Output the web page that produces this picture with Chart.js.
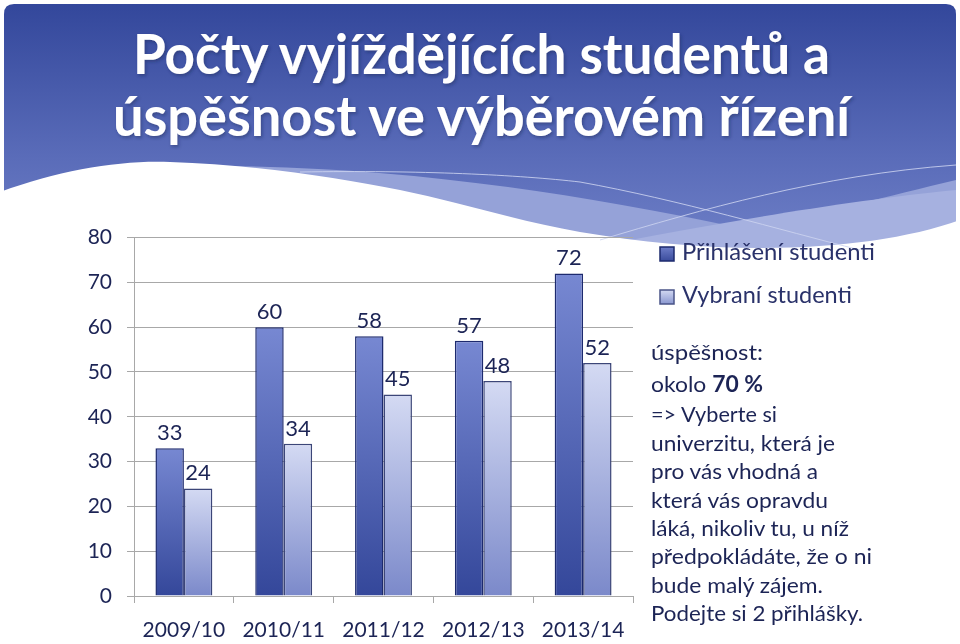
<!DOCTYPE html>
<html lang="cs">
<head>
<meta charset="utf-8">
<title>Počty vyjíždějících studentů</title>
<script src="https://cdn.jsdelivr.net/npm/chart.js@4/dist/chart.umd.min.js"></script>
<style>
  html, body { margin: 0; padding: 0; background: #fff; }
  #slide { position: relative; width: 960px; height: 644px; overflow: hidden; }
  #bg, #overlay { position: absolute; left: 0; top: 0; }
  #chartBox { position: absolute; left: 0; top: 210px; width: 650px; height: 434px; }
</style>
</head>
<body>
<div id="slide">
  <svg id="bg" width="960" height="644">
    <defs>
      <linearGradient id="headGrad" x1="0" y1="0" x2="0" y2="1">
        <stop offset="0" stop-color="#33479b"/>
        <stop offset="0.6" stop-color="#5a6cb9"/>
        <stop offset="1" stop-color="#7081c8"/>
      </linearGradient>
    </defs>
    <path d="M4,14 Q4,4 14,4 L946,4 Q956,4 956,14 L956,260 L4,260 Z" fill="url(#headGrad)"/>
    <!-- lighter band -->
    <path d="M230,166 C400,168 560,190 740,228 C800,220 880,198 956,180 L956,260 L230,260 Z" fill="#95a2d8"/>
    <path d="M600,246 C700,226 850,200 956,190 L956,260 L600,260 Z" fill="#a6b1e0"/>
    <!-- white hill -->
    <path d="M0,192 C60,170 120,160 170,162 C260,165 340,178 400,190 C460,202 520,222 580,232 C640,242 700,248 760,248 C840,248 910,238 960,220 L960,644 L0,644 Z" fill="#ffffff"/>
    <!-- thin light strokes -->
    <path d="M300,172 C420,170 520,175 580,182 C680,200 780,230 860,250" fill="none" stroke="#ccd3f0" stroke-width="1" opacity="0.85"/>
    <path d="M600,240 C700,210 820,175 956,165" fill="none" stroke="#ccd3f0" stroke-width="1" opacity="0.85"/>
  </svg>

  <div id="chartBox"><canvas id="barChart"></canvas></div>

  <svg id="overlay" width="960" height="644">
    <defs>
      <filter id="shadow" x="-5%" y="-20%" width="110%" height="140%">
        <feDropShadow dx="1.5" dy="2" stdDeviation="1.5" flood-color="#1a2550" flood-opacity="0.4"/>
      </filter>
      <linearGradient id="darkKey" x1="0" y1="0" x2="0" y2="1">
        <stop offset="0" stop-color="#6d7dc8"/>
        <stop offset="1" stop-color="#3a4c9c"/>
      </linearGradient>
      <linearGradient id="lightKey" x1="0" y1="0" x2="0" y2="1">
        <stop offset="0" stop-color="#d3d9f2"/>
        <stop offset="1" stop-color="#8a97d0"/>
      </linearGradient>
    </defs>
    <g font-family="Lato, 'Open Sans', sans-serif" font-weight="bold" font-size="56" fill="#ffffff" filter="url(#shadow)">
      <text id="title1" x="133" y="74" textLength="697" lengthAdjust="spacingAndGlyphs"></text>
      <text id="title2" x="113" y="136" textLength="737" lengthAdjust="spacingAndGlyphs"></text>
    </g>
    <g id="legend" font-family="Lato, 'Open Sans', sans-serif" font-size="23" fill="#2a326a"></g>
    <g id="note" font-family="Lato, 'Open Sans', sans-serif" font-size="22" fill="#1c2455"></g>
  </svg>
</div>

<script>
const seasons = ['2009/10', '2010/11', '2011/12', '2012/13', '2013/14']
const appliedStudents = [33, 60, 58, 57, 72]
const selectedStudents = [24, 34, 45, 48, 52]
const seriesNames = ['Přihlášení studenti', 'Vybraní studenti']
const titleLines = ['Počty vyjíždějících studentů a', 'úspěšnost ve výběrovém řízení']
const noteLines = [
  'úspěšnost:',
  'okolo |70 %',
  '=> Vyberte si',
  'univerzitu, která je',
  'pro vás vhodná a',
  'která vás opravdu',
  'láká, nikoliv tu, u níž',
  'předpokládáte, že o ni',
  'bude malý zájem.',
  'Podejte si 2 přihlášky.'
]

const SVG_NS = 'http://www.w3.org/2000/svg'
const textColor = '#1c2455'
const gridColor = '#a8a8a8'

// vertical gradient per bar, light at the top and dark at the base
const barGradient = (topColor, bottomColor) => {
  return (ctx) => {
    const chart = ctx.chart
    const area = chart.chartArea
    if (!area || ctx.type !== 'data') {
      return bottomColor
    }
    const yTop = chart.scales.y.getPixelForValue(ctx.raw)
    const g = chart.ctx.createLinearGradient(0, yTop, 0, area.bottom)
    g.addColorStop(0, topColor)
    g.addColorStop(1, bottomColor)
    return g
  }
}

// values above the bars
const valueLabels = {
  id: 'valueLabels',
  afterDatasetsDraw(chart) {
    const ctx = chart.ctx
    ctx.save()
    ctx.font = '22px Lato, "Open Sans", sans-serif'
    ctx.fillStyle = textColor
    ctx.textAlign = 'center'
    ctx.textBaseline = 'alphabetic'
    chart.data.datasets.forEach((ds, i) => {
      const meta = chart.getDatasetMeta(i)
      meta.data.forEach((bar, j) => {
        ctx.fillText(ds.data[j], bar.x, bar.y - 8)
      })
    })
    ctx.restore()
  }
}

const drawChart = () => {
  const ctx = document.querySelector('#barChart')
  new Chart(ctx, {
    type: 'bar',
    data: {
      labels: seasons,
      datasets: [{
        label: seriesNames[0],
        data: appliedStudents,
        backgroundColor: barGradient('#7788d2', '#34479a'),
        borderColor: '#1d2a6e',
        borderWidth: 1.5,
        borderSkipped: 'bottom'
      }, {
        label: seriesNames[1],
        data: selectedStudents,
        backgroundColor: barGradient('#d4daf3', '#7b89ca'),
        borderColor: '#3c4678',
        borderWidth: 1.5,
        borderSkipped: 'bottom'
      }]
    },
    options: {
      responsive: true,
      maintainAspectRatio: false,
      animation: false,
      layout: { padding: { top: 25, right: 17, left: 0, bottom: 0 } },
      datasets: {
        bar: { barPercentage: 1, categoryPercentage: 0.57 }
      },
      plugins: {
        legend: { display: false },
        tooltip: { enabled: false }
      },
      scales: {
        x: {
          afterFit: (scale) => { scale.height = 48 },
          grid: { offset: true, drawOnChartArea: false, tickLength: 7, color: gridColor },
          border: { color: gridColor, width: 1 },
          ticks: {
            color: textColor,
            padding: 15,
            font: { family: 'Lato, "Open Sans", sans-serif', size: 21 }
          }
        },
        y: {
          min: 0,
          max: 80,
          afterFit: (scale) => { scale.width = 134 },
          grid: { color: gridColor, tickLength: 7, lineWidth: 1 },
          border: { color: gridColor, width: 1 },
          ticks: {
            stepSize: 10,
            color: textColor,
            padding: 15,
            font: { family: 'Lato, "Open Sans", sans-serif', size: 21 }
          }
        }
      }
    },
    plugins: [valueLabels]
  })
}

const drawTexts = () => {
  document.querySelector('#title1').textContent = titleLines[0]
  document.querySelector('#title2').textContent = titleLines[1]

  // legend: colour keys and series names
  const legend = document.querySelector('#legend')
  const keyFills = ['url(#darkKey)', 'url(#lightKey)']
  const keyStrokes = ['#1d2a6e', '#4a5488']
  const keyTops = [247, 290]
  const legendBaselines = [260, 303]
  const legendWidths = [193, 170]
  seriesNames.forEach((name, i) => {
    const rect = document.createElementNS(SVG_NS, 'rect')
    rect.setAttribute('x', 660)
    rect.setAttribute('y', keyTops[i])
    rect.setAttribute('width', 14)
    rect.setAttribute('height', 14)
    rect.setAttribute('fill', keyFills[i])
    rect.setAttribute('stroke', keyStrokes[i])
    rect.setAttribute('stroke-width', 1.5)
    legend.appendChild(rect)
    const t = document.createElementNS(SVG_NS, 'text')
    t.setAttribute('x', 682)
    t.setAttribute('y', legendBaselines[i])
    t.setAttribute('textLength', legendWidths[i])
    t.setAttribute('lengthAdjust', 'spacingAndGlyphs')
    t.textContent = name
    legend.appendChild(t)
  })

  // note on the right side
  const note = document.querySelector('#note')
  const baselines = [360, 392, 422, 451, 479, 508, 536, 564, 593, 621]
  const widths = [112, 112, 126, 184, 167, 177, 198, 221, 172, 212]
  noteLines.forEach((line, i) => {
    const t = document.createElementNS(SVG_NS, 'text')
    t.setAttribute('x', 651)
    t.setAttribute('y', baselines[i])
    t.setAttribute('textLength', widths[i])
    t.setAttribute('lengthAdjust', 'spacingAndGlyphs')
    const parts = line.split('|')
    const plain = document.createElementNS(SVG_NS, 'tspan')
    plain.textContent = parts[0]
    t.appendChild(plain)
    if (parts[1]) {
      const bold = document.createElementNS(SVG_NS, 'tspan')
      bold.setAttribute('font-weight', 'bold')
      bold.textContent = parts[1]
      t.appendChild(bold)
    }
    note.appendChild(t)
  })
}

document.addEventListener('DOMContentLoaded', function() {
  drawTexts()
  drawChart()
})
</script>
</body>
</html>
